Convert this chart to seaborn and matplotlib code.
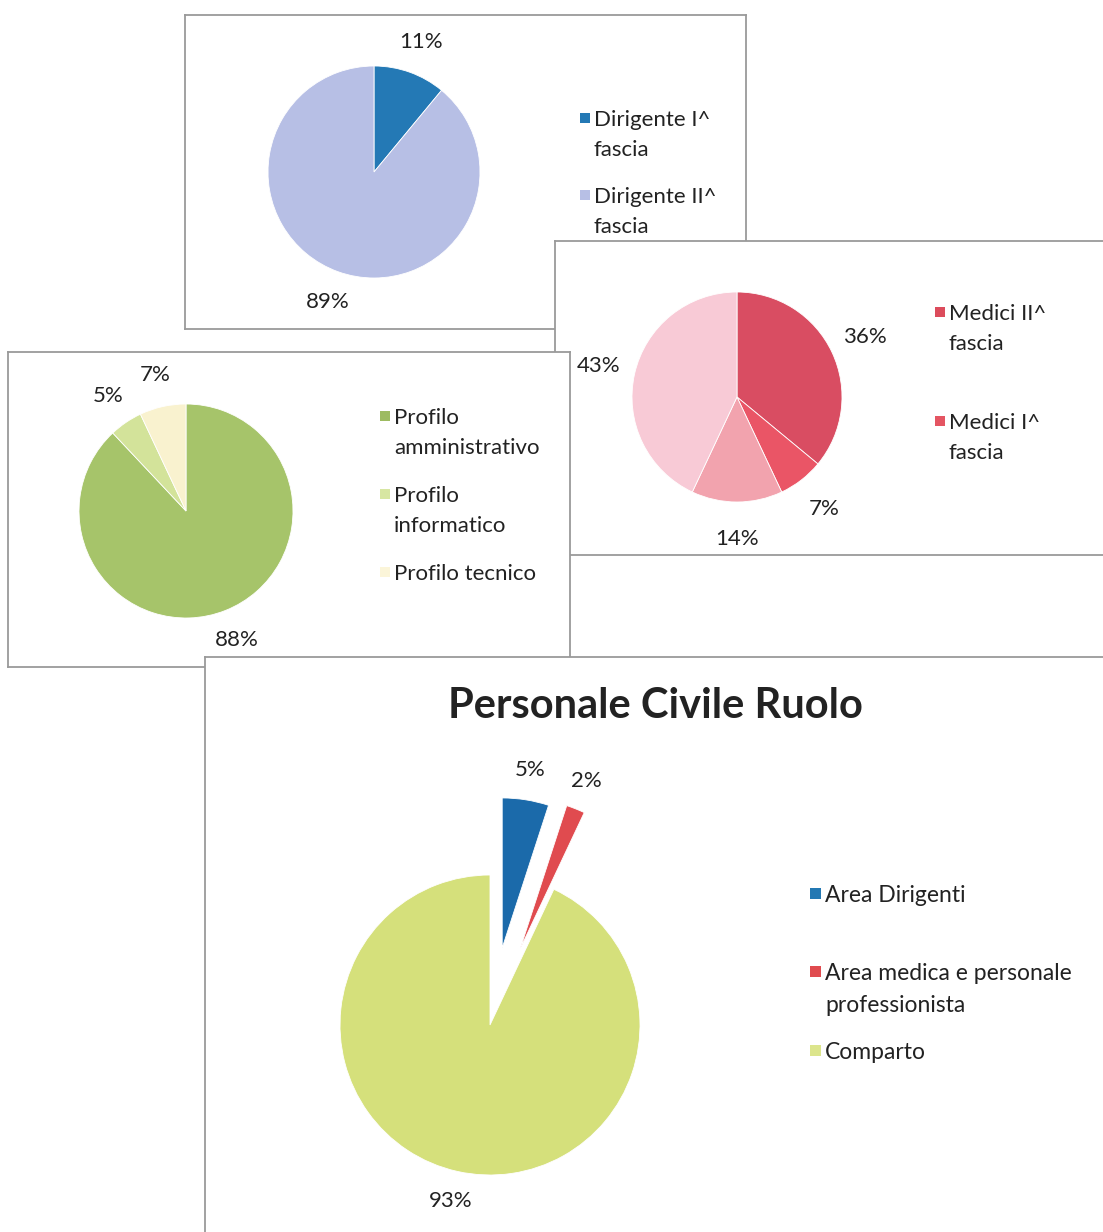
import matplotlib
matplotlib.use("Agg")
import matplotlib.pyplot as plt
from matplotlib.patches import Rectangle
import seaborn as sns

# Data
dir_values = [11, 89]
dir_legend = ["Dirigente I^\nfascia", "Dirigente II^\nfascia"]

med_values = [36, 7, 14, 43]
med_legend = ["Medici II^\nfascia", "Medici I^\nfascia"]

prof_values = [88, 5, 7]
prof_legend = ["Profilo\namministrativo", "Profilo\ninformatico", "Profilo tecnico"]

civ_values = [5, 2, 93]
civ_legend = ["Area Dirigenti", "Area medica e personale\nprofessionista", "Comparto"]
civ_title = "Personale Civile Ruolo"

dir_colors = ["#2479B5", "#B7BFE5"]
med_colors = ["#D94D62", "#EA5566", "#F2A3AE", "#F8CAD6"]
med_leg_colors = ["#DC4C5C", "#E45562"]
prof_colors = ["#A6C46A", "#D3E39A", "#F9F2CF"]
civ_colors = ["#1B6AAA", "#E04B4F", "#D5E07B"]

sns.set_theme(style="white")
plt.rcParams["font.family"] = ["Lato", "DejaVu Sans"]

W, H = 1103, 1232
fig = plt.figure(figsize=(W / 100, H / 100), dpi=100)
fig.patch.set_facecolor("white")
TXT = "#222222"
FS = 16


def fy(y):
    return H - y


def box(x0, y0, x1, y1):
    ax = fig.add_axes([x0 / W, (H - y1) / H, (x1 - x0) / W, (y1 - y0) / H])
    ax.set_facecolor("white")
    for s in ax.spines.values():
        s.set_color("#9A9A9A")
        s.set_linewidth(1.3)
    return ax, (x0, x1, fy(y1), fy(y0))


def finish(ax, lims):
    ax.set_xlim(lims[0], lims[1])
    ax.set_ylim(lims[2], lims[3])
    ax.set_xticks([])
    ax.set_yticks([])


def draw_pie(ax, values, colors, cx, cy, r, ldist, explode=None):
    wedges, texts = ax.pie(
        values, colors=colors, startangle=90, counterclock=False,
        center=(cx, fy(cy)), radius=r, explode=explode,
        labels=[f"{v}%" for v in values], labeldistance=ldist,
        textprops=dict(fontsize=FS, color=TXT),
        wedgeprops=dict(edgecolor="white", linewidth=0.6), frame=True,
    )
    for t in texts:
        t.set_ha("center")
        t.set_va("center")


def legend_text(ax, x, ys, labels, colors, size=10, fs=FS):
    for y, lab, c in zip(ys, labels, colors):
        ax.add_patch(Rectangle((x - size - 4, fy(y) - size / 2), size, size,
                               facecolor=c, edgecolor="none"))
        ax.text(x, fy(y) + 8, lab, fontsize=fs, color=TXT, ha="left",
                va="top", linespacing=1.62)


# Chart A: dirigenti
axA, limA = box(185, 15, 746, 329)
draw_pie(axA, dir_values, dir_colors, 374, 172, 106, 1.3)
legend_text(axA, 594, [118, 195], dir_legend, dir_colors)
finish(axA, limA)

# Chart B: medici
axB, limB = box(555, 241, 1110, 555)
draw_pie(axB, med_values, med_colors, 737, 397, 105, 1.35)
legend_text(axB, 949, [312, 421], med_legend, med_leg_colors)
finish(axB, limB)

# Chart C: profili
axC, limC = box(8, 352, 570, 667)
draw_pie(axC, prof_values, prof_colors, 186, 511, 107, 1.3)
legend_text(axC, 394, [416, 494, 572], prof_legend, ["#9DBB61", "#D7E6A2", "#FBF5D9"])
finish(axC, limC)

# Chart D: personale civile ruolo
axD, limD = box(205, 657, 1110, 1240)
r = 150
draw_pie(axD, civ_values, civ_colors, 490, 1025, r, 1.2,
         explode=[0.52 * r, 0.55 * r, 0])
axD.text(655, fy(706), civ_title, fontsize=30, fontweight="bold", color=TXT,
         ha="center", va="center")
legend_text(axD, 825, [893, 971, 1050], civ_legend, ["#2378B3", "#E04B4F", "#DCE58C"],
            size=11, fs=16.5)
finish(axD, limD)

fig.savefig("out.png", dpi=100)
